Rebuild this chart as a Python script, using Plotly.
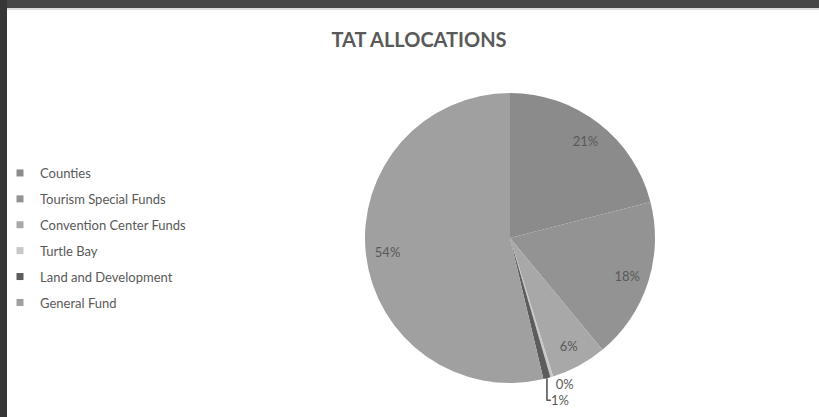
import plotly.graph_objects as go

# ---- data ----
categories = ["Counties", "Tourism Special Funds", "Convention Center Funds",
              "Turtle Bay", "Land and Development", "General Fund"]
values = [21.0, 18.0, 6.2, 0.3, 0.8, 53.7]
colors = ["#8b8b8b", "#939393", "#a8a8a8", "#c8c8c8", "#5c5c5c", "#a0a0a0"]
title_text = "TAT ALLOCATIONS"

W, H = 819, 417
FONT = "Lato, 'Open Sans', sans-serif"
TXT = "#595959"

fig = go.Figure()

cx, cy, r = 510, 238, 145
dom = dict(x=[(cx - r) / W, (cx + r) / W], y=[(H - cy - r) / H, (H - cy + r) / H])

# filled pie (no text)
fig.add_trace(go.Pie(
    labels=categories, values=values, sort=False, direction="clockwise",
    rotation=0,
    marker=dict(colors=colors, line=dict(width=0)),
    textinfo="none",
    showlegend=False, hoverinfo="label+percent",
    domain=dom,
))
# transparent ring on top that carries the percentage labels near the rim
fig.add_trace(go.Pie(
    labels=categories, values=values, sort=False, direction="clockwise",
    rotation=0, hole=0.7,
    marker=dict(colors=["rgba(0,0,0,0)"] * len(values), line=dict(width=0)),
    texttemplate="%{percent:.0%}",
    textposition=["inside", "inside", "inside", "outside", "outside", "inside"],
    insidetextorientation="horizontal",
    textfont=dict(family=FONT, size=13, color=TXT),
    showlegend=False, hoverinfo="skip",
    domain=dom,
))

for i, (name, col) in enumerate(zip(categories, colors)):
    fig.add_trace(go.Scatter(
        x=[None], y=[None], mode="markers", name=name,
        marker=dict(symbol="square", size=7, color=col),
        legendgroup=f"g{i}", showlegend=True, hoverinfo="skip",
    ))

# dark frame bands
fig.add_shape(type="rect", xref="paper", yref="paper", x0=0, x1=1, y0=1 - 8 / H, y1=1,
              fillcolor="#464646", line=dict(width=0), layer="above")
fig.add_shape(type="rect", xref="paper", yref="paper", x0=0, x1=7 / W, y0=0, y1=1,
              fillcolor="#363636", line=dict(width=0), layer="above")
fig.add_shape(type="rect", xref="paper", yref="paper", x0=7 / W, x1=1, y0=1 - 10 / H, y1=1 - 8 / H,
              fillcolor="#dcdcdc", line=dict(width=0), layer="above")

fig.update_layout(
    width=W, height=H,
    margin=dict(l=0, r=0, t=0, b=0),
    paper_bgcolor="white", plot_bgcolor="white",
    xaxis=dict(visible=False), yaxis=dict(visible=False),
    title=dict(text=f"<b>{title_text}</b>", x=419 / W, xanchor="center",
               y=1 - 40 / H, yanchor="middle",
               font=dict(family=FONT, size=20, color=TXT)),
    legend=dict(x=0, xanchor="left", y=1 - 158 / H, yanchor="top",
                font=dict(family=FONT, size=13, color=TXT),
                tracegroupgap=6, itemwidth=30, bgcolor="rgba(0,0,0,0)"),
    showlegend=True,
)

fig.write_html("out.html")
